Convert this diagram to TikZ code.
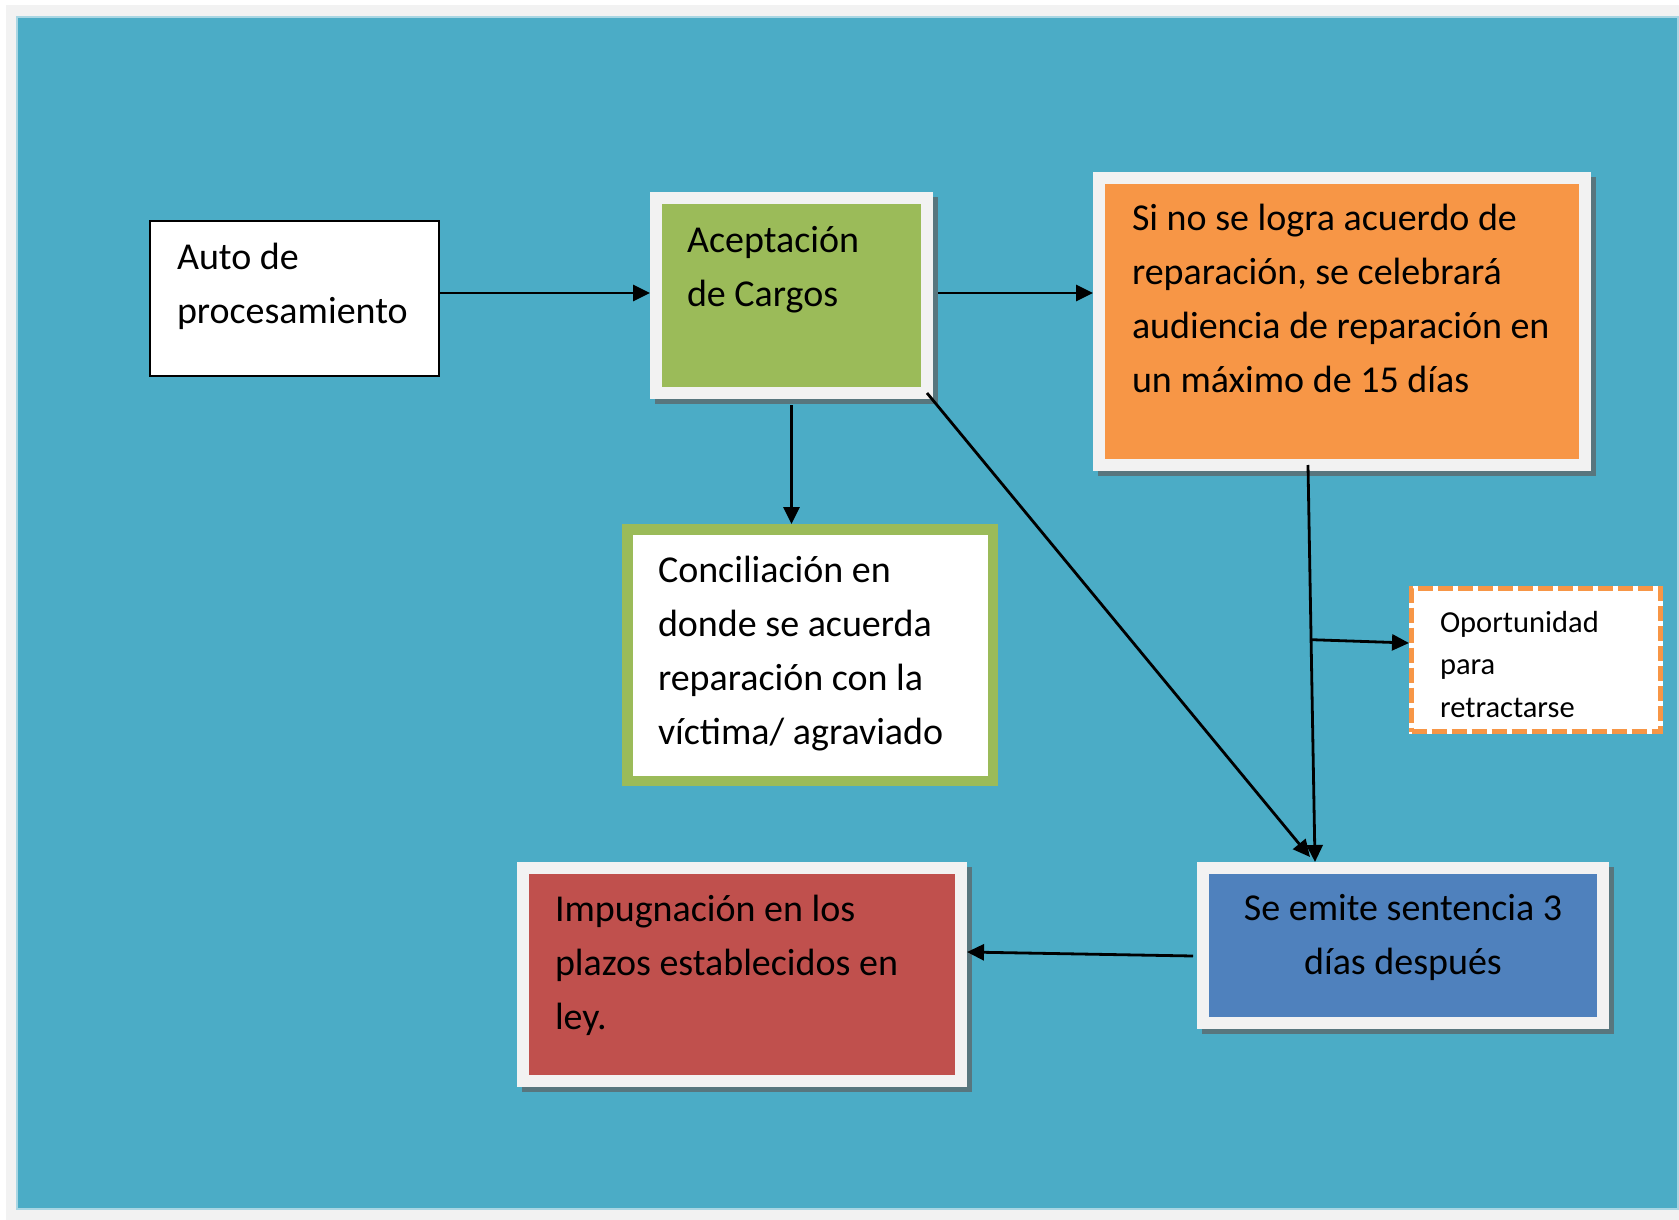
\documentclass[tikz,border=0pt]{standalone}
\usepackage{fontspec}
\setmainfont{Carlito}
\usetikzlibrary{arrows.meta,calc}
\definecolor{bgteal}{HTML}{4BACC6}
\definecolor{tealedge}{HTML}{A9D6E3}
\definecolor{outergray}{HTML}{F2F2F2}
\definecolor{framec}{HTML}{F2F2F2}
\definecolor{cgreen}{HTML}{9BBB59}
\definecolor{corange}{HTML}{F79646}
\definecolor{cblue}{HTML}{4F81BD}
\definecolor{cred}{HTML}{C0504D}
\definecolor{shadowc}{RGB}{88,118,126}
\newcommand\ptext[5]{\parbox[c][#2pt][t]{#1pt}{\vspace*{#4pt}\hspace*{#3pt}\begin{tabular}[t]{@{}l@{}}#5\end{tabular}}}
\newcommand\ctext[4]{\parbox[c][#2pt][t]{#1pt}{\vspace*{#3pt}\centering\begin{tabular}[t]{@{}c@{}}#4\end{tabular}}}
\begin{document}
\begin{tikzpicture}[x=1pt,y=-1pt,
  panel/.style={rectangle, draw=framec, line width=12pt, outer sep=6pt, inner sep=0pt},
  shadowed/.style={preaction={draw=shadowc, fill=shadowc, line width=12pt, transform canvas={shift={(5pt,-5pt)}}}},
  mainfont/.style={font=\fontsize{38}{54}\selectfont},
  smallfont/.style={font=\fontsize{30.5}{42.5}\selectfont},
  arr/.style={draw=black, line width=2.8pt, -{Triangle[length=17pt,width=16pt]}},
]
\useasboundingbox (0,0) rectangle (1679,1220);
\fill[white] (0,0) rectangle (1679,1220);
\fill[outergray] (6,5) rectangle (1679,1220);
\filldraw[fill=bgteal, draw=tealedge, line width=1.2pt] (17,17) rectangle (1678,1209);

\node[rectangle, draw=black, line width=2pt, fill=white, inner sep=0pt, outer sep=1pt, mainfont]
  (auto) at (294.5,298.5) {\ptext{289}{155}{27}{10.2}{Auto de\\procesamiento}};

\node[panel, shadowed, fill=cgreen, mainfont]
  (acc) at (791.5,295.5) {\ptext{271}{195}{31}{16.2}{Aceptación\\de Cargos}};

\node[panel, shadowed, fill=corange, mainfont]
  (org) at (1342,321.5) {\ptext{486}{287}{33}{14.9}{Si no se logra acuerdo de\\reparación, se celebrará\\audiencia de reparación en\\un máximo de 15 días}};

\node[rectangle, draw=cgreen, line width=10.5pt, outer sep=5.25pt, inner sep=0pt, fill=white, mainfont]
  (conc) at (810,655) {\ptext{365.5}{251.5}{30.75}{14.95}{Conciliación en\\donde se acuerda\\reparación con la\\víctima/ agraviado}};

\node[rectangle, draw=corange, dash pattern=on 15pt off 5pt, line width=5pt, outer sep=2.5pt, inner sep=0pt, fill=white,
      preaction={draw=white, solid, line width=5pt}, smallfont]
  (opp) at (1536,660) {\ptext{249}{143}{28.5}{13.75}{Oportunidad\\para\\retractarse}};

\node[panel, shadowed, fill=cblue, mainfont]
  (sent) at (1403,945.5) {\ctext{400}{155}{14.2}{Se emite sentencia 3\\días después}};

\node[panel, shadowed, fill=cred, mainfont]
  (imp) at (742,974.5) {\ptext{438}{213}{32}{15.2}{Impugnación en los\\plazos establecidos en\\ley.}};

% connectors
\draw[arr] ([yshift=5.5pt]auto.east) -- ([yshift=2.5pt]acc.west);
\draw[arr] ([shift={(5pt,2.5pt)}]acc.east) -- ([yshift=28.5pt]org.west);
\draw[arr] ([yshift=-6pt]acc.south) -- (acc.south |- conc.north);
\draw[arr] ([shift={(-6pt,6pt)}]acc.south east) -- ([shift={(113pt,5pt)}]sent.north west);
\coordinate (vtop) at ([shift={(-34pt,6pt)}]org.south);
\coordinate (vbot) at ([xshift=118pt]sent.north west);
\draw[arr] (vtop) -- (vbot);
\coordinate (br) at ($(vtop)!0.44!(vbot)$);
\draw[arr] (br) -- ([yshift=17pt]opp.west);
\draw[arr] ([shift={(-4pt,-10.5pt)}]sent.west) -- ([yshift=22.5pt]imp.east);
\end{tikzpicture}
\end{document}
